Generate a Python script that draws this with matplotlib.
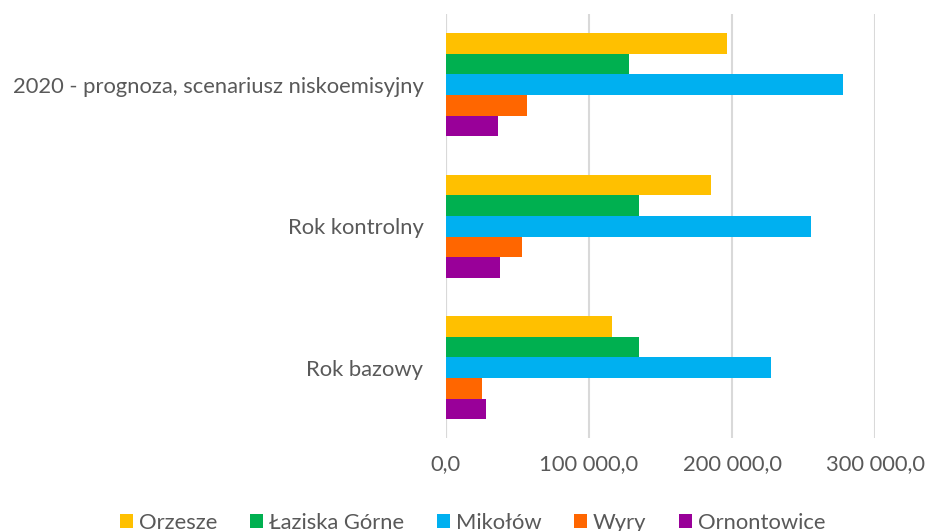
import matplotlib.pyplot as plt
from matplotlib.ticker import FuncFormatter
import numpy as np

categories = ['Rok bazowy', 'Rok kontrolny', '2020 - prognoza, scenariusz niskoemisyjny']
series = ['Orzesze', 'Łaziska Górne', 'Mikołów', 'Wyry', 'Ornontowice']
colors = ['#FFC000', '#00B050', '#00B0F0', '#FF6600', '#990099']

orzesze = [116300, 185000, 196200]
laziska = [135200, 135200, 128200]
mikolow = [227400, 255300, 277700]
wyry = [25100, 53100, 56500]
ornontowice = [28400, 37900, 36300]
values = [orzesze, laziska, mikolow, wyry, ornontowice]

plt.rcParams['font.family'] = ['Lato', 'DejaVu Sans']
text_col = '#595959'
fs = 15.8

fig = plt.figure(figsize=(9.27, 5.31), dpi=100)
ax = fig.add_axes([0.4808, 0.1742, 0.9442 - 0.4808, 0.9736 - 0.1742])

y = np.arange(len(categories))
group = 0.73
h = group / len(series)
for k, (name, vals, c) in enumerate(zip(series, values, colors)):
    off = group / 2 - h / 2 - k * h
    ax.barh(y + off, vals, height=h, color=c, label=name, zorder=3)

ax.set_xlim(0, 300000)
ax.set_ylim(-0.5, len(categories) - 0.5)
ax.set_xticks([0, 100000, 200000, 300000])
ax.xaxis.set_major_formatter(FuncFormatter(
    lambda v, p: '{:,.1f}'.format(v).replace(',', ' ').replace('.', ',')))
ax.set_yticks(y)
ax.set_yticklabels(categories)
ax.grid(axis='x', color='#D9D9D9', linewidth=1.5, zorder=0)
for s in ax.spines.values():
    s.set_visible(False)
ax.axvline(0, color='#D9D9D9', linewidth=1.5, zorder=1)
ax.tick_params(axis='both', length=0, labelsize=fs, colors=text_col)
ax.tick_params(axis='x', pad=11)
ax.tick_params(axis='y', pad=16)

leg = fig.legend(loc='center', bbox_to_anchor=(0.51, 0.016), ncol=5,
                 frameon=False, fontsize=fs, handlelength=0.6,
                 handleheight=0.6, handletextpad=0.25, columnspacing=1.5)
for t in leg.get_texts():
    t.set_color(text_col)

plt.savefig('out.png', dpi=100)
